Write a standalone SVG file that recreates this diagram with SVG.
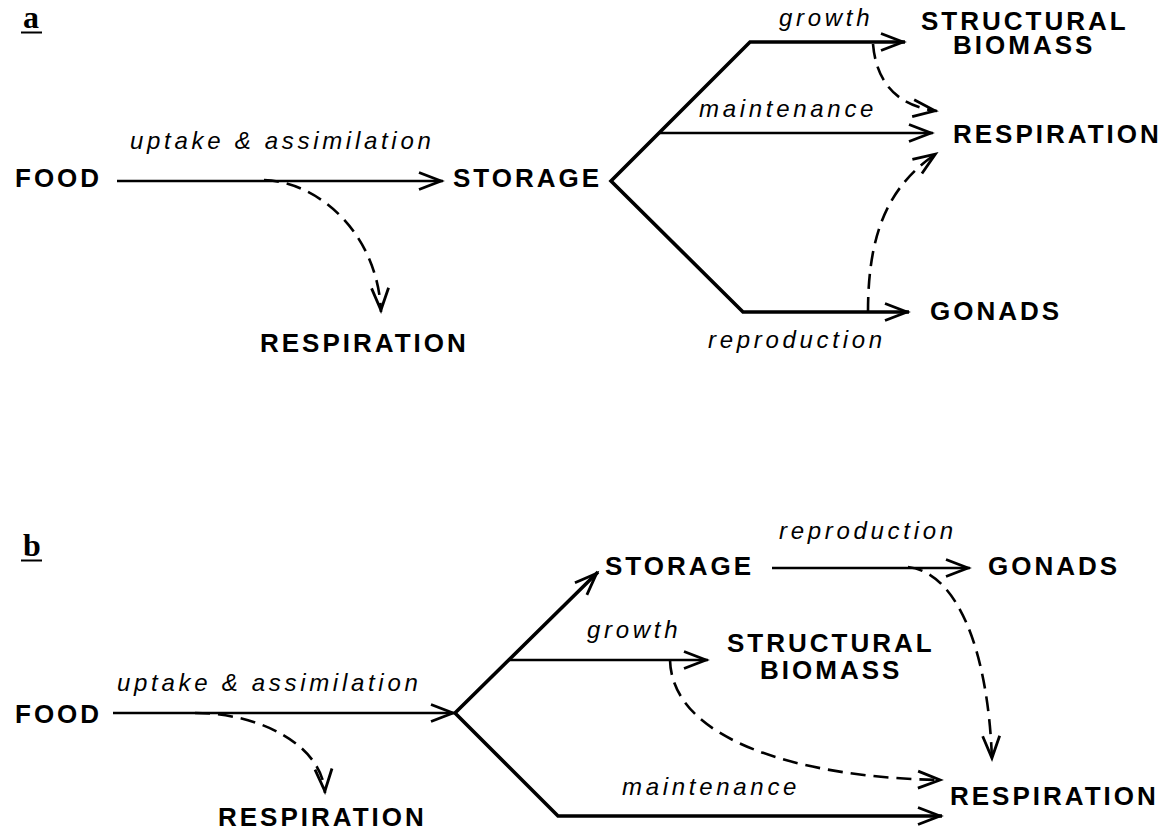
<svg xmlns="http://www.w3.org/2000/svg" width="1167" height="831" viewBox="0 0 1167 831">
<defs>
<marker id="ah" markerUnits="userSpaceOnUse" viewBox="-30 -12 34 24" markerWidth="34" markerHeight="24" refX="0" refY="0" orient="auto">
<path d="M-24,-8.5 L-2,0 L-24,8.5" fill="none" stroke="#000" stroke-width="2.8" stroke-linejoin="miter"/>
</marker>
<marker id="ahs" markerUnits="userSpaceOnUse" viewBox="-30 -12 34 24" markerWidth="34" markerHeight="24" refX="0" refY="0" orient="auto-start-reverse">
<path d="M-24,-8.5 L-2,0 L-24,8.5" fill="none" stroke="#000" stroke-width="2.8" stroke-linejoin="miter"/>
</marker>
</defs>
<style>
.n{font-family:"Liberation Sans",Arial,sans-serif;font-weight:bold;font-size:26px;letter-spacing:3px;fill:#000}
.l{font-family:"Liberation Sans",Arial,sans-serif;font-style:italic;font-size:24px;letter-spacing:3.7px;fill:#000}
.p{font-family:"Liberation Serif","Times New Roman",serif;font-weight:bold;font-size:32px;fill:#000}
.u{stroke:#000;stroke-width:2}
.s{fill:none;stroke:#000;stroke-width:2.6}
.f{fill:none;stroke:#000;stroke-width:3.6;stroke-linejoin:miter}
.d{fill:none;stroke:#000;stroke-width:2.6;stroke-dasharray:15 8}
</style>

<!-- panel labels -->
<g id="panel-a-label"><text class="p" x="23" y="28">a</text><line class="u" x1="21" y1="32.5" x2="42" y2="32.5"/></g>
<g id="panel-b-label"><text class="p" x="23" y="556">b</text><line class="u" x1="21" y1="560.5" x2="42" y2="560.5"/></g>

<!-- connectors -->
<g id="connectors">
  <!-- panel a -->
  <path class="s" d="M117,181 L443,181" marker-end="url(#ah)"/>
  <path class="f" d="M905,42 L750,42 L611,181 L743,312 L909,312" marker-start="url(#ahs)" marker-end="url(#ah)"/>
  <path class="s" d="M659,133 L933,133" marker-end="url(#ah)"/>
  <path class="d" d="M264,180 C320,182 378,235 381,312" marker-end="url(#ah)"/>
  <path class="d" d="M873,44 C876,80 895,106 937,111" marker-end="url(#ah)"/>
  <path class="d" d="M868,312 C868,230 890,185 937,153" marker-end="url(#ah)"/>
  <!-- panel b -->
  <path class="s" d="M113,713 L455,713" marker-end="url(#ah)"/>
  <path class="f" d="M598,572 L455,713 L558,816 L942,816" marker-start="url(#ahs)" marker-end="url(#ah)"/>
  <path class="s" d="M508,660 L708,660" marker-end="url(#ah)"/>
  <path class="s" d="M772,568 L970,568" marker-end="url(#ah)"/>
  <path class="d" d="M195,713 C260,713 322,745 325,793" marker-end="url(#ah)"/>
  <path class="d" d="M908,567 C955,572 988,645 992,760" marker-end="url(#ah)"/>
  <path class="d" d="M670,660 C672,740 800,778 942,780" marker-end="url(#ah)"/>
</g>

<!-- edge labels -->
<g id="edge-labels">
  <text class="l" x="130" y="149">uptake &amp; assimilation</text>
  <text class="l" x="779" y="26">growth</text>
  <text class="l" x="699" y="117">maintenance</text>
  <text class="l" x="708" y="348">reproduction</text>
  <text class="l" x="117" y="690.5">uptake &amp; assimilation</text>
  <text class="l" x="779" y="539">reproduction</text>
  <text class="l" x="587" y="638">growth</text>
  <text class="l" x="622" y="795">maintenance</text>
</g>

<!-- nodes panel a -->
<g id="a-food"><text class="n" x="15" y="187">FOOD</text></g>
<g id="a-storage"><text class="n" x="453" y="187">STORAGE</text></g>
<g id="a-respiration-1"><text class="n" x="260" y="352">RESPIRATION</text></g>
<g id="a-structural-biomass"><text class="n"><tspan x="921" y="30">STRUCTURAL</tspan><tspan x="953" y="53.5">BIOMASS</tspan></text></g>
<g id="a-respiration-2"><text class="n" x="953" y="143">RESPIRATION</text></g>
<g id="a-gonads"><text class="n" x="930" y="320">GONADS</text></g>

<!-- nodes panel b -->
<g id="b-food"><text class="n" x="15" y="722.5">FOOD</text></g>
<g id="b-respiration-1"><text class="n" x="218" y="826">RESPIRATION</text></g>
<g id="b-storage"><text class="n" x="605" y="575">STORAGE</text></g>
<g id="b-gonads"><text class="n" x="988" y="575">GONADS</text></g>
<g id="b-structural-biomass"><text class="n"><tspan x="727" y="652">STRUCTURAL</tspan><tspan x="760" y="679">BIOMASS</tspan></text></g>
<g id="b-respiration-2"><text class="n" x="950" y="805">RESPIRATION</text></g>
</svg>
